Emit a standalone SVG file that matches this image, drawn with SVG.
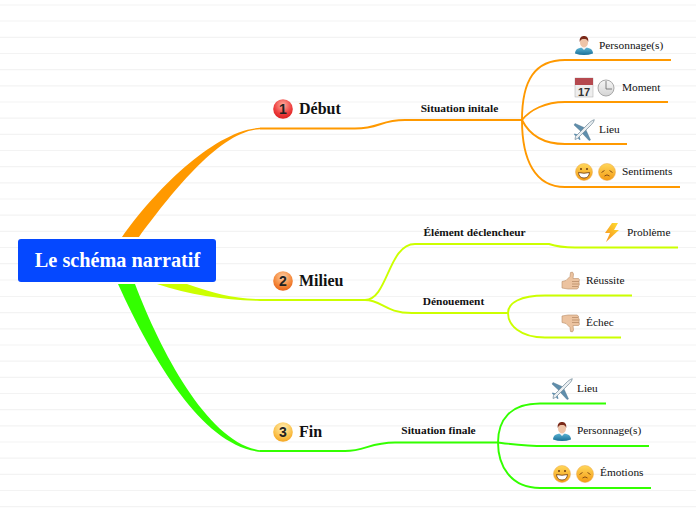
<svg xmlns="http://www.w3.org/2000/svg" width="696" height="520" viewBox="0 0 696 520">
<style>
text{font-family:"Liberation Serif","Times New Roman",serif;fill:#111}
.root{font-size:20.25px;font-weight:bold;fill:#fff;text-anchor:middle}
.main{font-size:16px;font-weight:bold}
.sub{font-size:11.4px;font-weight:bold;text-anchor:middle}
.leaf{font-size:11.35px}
.rule{stroke:#f3f3f3;stroke-width:1.2}
.o{fill:none;stroke:#ff9900;stroke-width:1.9}
.y{fill:none;stroke:#ccff00;stroke-width:1.9}
.g{fill:none;stroke:#33ff00;stroke-width:1.9}
.num{font-family:"Liberation Sans",sans-serif;font-size:14px;font-weight:bold;text-anchor:middle;fill:#222}
.hand{fill:#ecc3a0;stroke:#b98d68;stroke-width:.6}
.fing{fill:none;stroke:#b98d68;stroke-width:.8}
</style>
<defs>
<radialGradient id="r1" cx=".5" cy=".3" r=".75"><stop offset="0" stop-color="#ffb0a0"/><stop offset=".6" stop-color="#ee4040"/><stop offset="1" stop-color="#d81818"/></radialGradient>
<radialGradient id="r2" cx=".5" cy=".3" r=".75"><stop offset="0" stop-color="#ffd0a8"/><stop offset=".6" stop-color="#f58a3c"/><stop offset="1" stop-color="#e45c14"/></radialGradient>
<radialGradient id="r3" cx=".5" cy=".3" r=".75"><stop offset="0" stop-color="#ffefb8"/><stop offset=".6" stop-color="#fbc450"/><stop offset="1" stop-color="#f4a018"/></radialGradient>
<linearGradient id="face" x1="0" y1="0" x2="0" y2="1"><stop offset="0" stop-color="#ffd75a"/><stop offset="1" stop-color="#f39a14"/></linearGradient>
<linearGradient id="shirt" x1="0" y1="0" x2="0" y2="1"><stop offset="0" stop-color="#5cb4d4"/><stop offset="1" stop-color="#1a6f98"/></linearGradient>
<linearGradient id="bolt" x1="1" y1="0" x2="0" y2="1"><stop offset="0" stop-color="#ffe030"/><stop offset="1" stop-color="#f58a20"/></linearGradient>
<linearGradient id="clock" x1="0" y1="0" x2="0" y2="1"><stop offset="0" stop-color="#f6f6f6"/><stop offset="1" stop-color="#d4d4d4"/></linearGradient>
<symbol id="person" viewBox="0 0 20 20" overflow="visible">
<path d="M1 18.500C1 14 5 12.500 10 12.500S19 14 19 18.500Q10 21.500 1 18.500Z" fill="url(#shirt)"/>
<path d="M7 12L10 15L13 12Z" fill="#f4f4f4"/>
<ellipse cx="10" cy="7.500" rx="4" ry="5" fill="#eec4a8"/>
<path d="M5.800 7C5 2 8 1 10 1S15 2 14.200 7C13.500 4.500 12 4 10 4S6.500 4.500 5.800 7Z" fill="#7a2a1a"/>
</symbol>
<symbol id="happy" viewBox="0 0 18 18" overflow="visible">
<circle cx="9" cy="9" r="8.500" fill="url(#face)" stroke="#eaa850" stroke-width=".5"/>
<circle cx="6" cy="6" r="1" fill="#6b3a10"/><circle cx="12" cy="6" r="1" fill="#6b3a10"/>
<path d="M3.500 9.500Q9 11 14.500 9.500Q14 15 9 15T3.500 9.500Z" fill="#fff" stroke="#6b3a10" stroke-width=".8"/>
</symbol>
<symbol id="sad" viewBox="0 0 18 18" overflow="visible">
<circle cx="9" cy="9" r="8.500" fill="url(#face)" stroke="#eaa850" stroke-width=".5"/>
<path d="M3.500 9.500L6.500 7.500M14.500 9.500L11.500 7.500" stroke="#7a4210" stroke-width=".9" fill="none"/>
<path d="M6.500 13Q9 10.800 11.500 13" stroke="#7a4210" stroke-width=".9" fill="none"/>
</symbol>
<symbol id="plane" viewBox="0 0 20 20" overflow="visible">
<path d="M10 7.500L1 3.500L0 5L7 11.500ZM12 10L16.500 20L15 20.500L8.500 13.500Z" fill="#5f8eac" stroke="#4a6f88" stroke-width=".4"/>
<path d="M1 19.500L1.500 16.500L15.500 2.500Q18.500 0 20.300 -.3Q20 2 17.500 4.500L3.500 18.500Z" fill="#e9eef1" stroke="#6f8696" stroke-width=".7"/>
<path d="M1.500 16L0 14.500L.5 13.500L3.500 14.500ZM4 18.500L5.500 20L6.500 19.500L5.500 16.500Z" fill="#5f8eac"/>
</symbol>
</defs>
<g id="background">
<path class="rule" d="M0 5H696M0 21H696M0 37.400H696M0 53.500H696M0 69.700H696M0 85.800H696M0 102H696M0 118.200H696M0 134.400H696M0 150.500H696M0 166.700H696M0 182.900H696M0 199H696M0 215.200H696M0 231.400H696M0 247.500H696M0 263.700H696M0 280H696M0 296.500H696M0 312.700H696M0 328.900H696M0 345H696M0 361.200H696M0 377.400H696M0 393.500H696M0 409.700H696M0 425.900H696M0 442H696M0 458.200H696M0 474.400H696M0 490.500H696M0 506.700H696"/>
</g>
<g id="connectors">
<path fill="#ff9900" d="M122 237C155 190 215 130 260 127.800L260 129.200C220 130.500 170 195 139 237Z"/>
<path fill="#ccff00" d="M157 284L187 284C212 293 235 299 260 299L260 301C225 300 190 295 157 284Z"/>
<path fill="#33ff00" d="M118 284L135 284C162 355 210 445 262 450.500L262 452C205 448 155 365 118 284Z"/>
<path class="o" d="M260 128.500H355C380 128.500 380 120 405 120H522"/>
<path class="o" d="M522 120C522 80 535 60 565 60H671"/>
<path class="o" d="M522 120C530 110 545 102 565 102H668"/>
<path class="o" d="M522 120C528 132 540 144 565 144H627"/>
<path class="o" d="M522 120C522 160 535 187 565 187H680"/>
<path class="y" d="M260 300H365C388 300 388 244 415 244H549C555 246 560 247.500 575 247.500H678"/>
<path class="y" d="M365 300C382 300 385 313 412 313H508"/>
<path class="y" d="M508 313C508 303 520 295.500 545 295.500H632"/>
<path class="y" d="M508 313C508 325 520 337.500 545 337.500H621"/>
<path class="g" d="M260 451H345C365 451 370 442.500 395 442.500H498"/>
<path class="g" d="M498 442.500C498 420 510 403.500 540 403.500H606"/>
<path class="g" d="M498 442.500C510 444 525 446 545 446H649"/>
<path class="g" d="M498 442.500C498 465 510 488 540 488H651"/>
</g>
<g id="root"><rect x="18" y="239" width="198" height="43" rx="3" fill="#0548ff"/><text class="root" x="117.500" y="267">Le schéma narratif</text></g>
<g id="debut"><circle cx="283" cy="109" r="9.800" fill="url(#r1)"/><text class="num" x="283" y="114">1</text><text class="main" x="299" y="114">Début</text></g>
<g id="milieu"><circle cx="283" cy="281" r="9.800" fill="url(#r2)"/><text class="num" x="283" y="286">2</text><text class="main" x="299" y="286">Milieu</text></g>
<g id="fin"><circle cx="283" cy="432" r="9.800" fill="url(#r3)"/><text class="num" x="283" y="437">3</text><text class="main" x="299" y="437">Fin</text></g>
<g id="situation-initale"><text class="sub" x="459.500" y="112">Situation initale</text></g>
<g id="element"><text class="sub" x="474.500" y="236">Élément déclencheur</text></g>
<g id="denouement"><text class="sub" x="453.500" y="305">Dénouement</text></g>
<g id="situation-finale"><text class="sub" x="438.500" y="434">Situation finale</text></g>
<g id="personnage1"><use href="#person" x="574" y="35" width="20" height="20"/><text class="leaf" x="599" y="49">Personnage(s)</text></g>
<g id="moment">
<rect x="575" y="78" width="18" height="19" fill="#eee" stroke="#aaa" stroke-width=".5"/><rect x="575" y="78" width="18" height="7" fill="#b5494f"/>
<text x="584" y="95.500" font-size="11" font-weight="bold" text-anchor="middle" style="font-family:'Liberation Sans',sans-serif;fill:#333">17</text>
<circle cx="606" cy="88" r="8" fill="url(#clock)" stroke="#a8a8a8"/><path d="M606 81V89H612" fill="none" stroke="#666" stroke-width=".8"/>
<text class="leaf" x="622" y="91">Moment</text></g>
<g id="lieu1"><use href="#plane" x="574" y="120" width="20" height="20"/><text class="leaf" x="599" y="133">Lieu</text></g>
<g id="sentiments"><use href="#happy" x="575" y="163" width="18" height="18"/><use href="#sad" x="598" y="163" width="18" height="18"/><text class="leaf" x="622" y="175">Sentiments</text></g>
<g id="probleme"><path fill="url(#bolt)" d="M612 223L618 223L614 230L619 230L606 242L610 233L605 233Z"/><text class="leaf" x="627" y="236">Problème</text></g>
<g id="reussite">
<path class="hand" d="M562 281.500L566 280.500L570 276.500L570.500 272.500Q573 271 573.500 274L573 278.500H578.500Q580 279 579 282Q580 285 578.500 286Q579 288.500 577 289H568L562 288Z"/><path class="fing" d="M572 281.500H579M572 284H579M572 286.500H578"/><text class="leaf" x="586" y="284">Réussite</text></g>
<g id="echec">
<path class="hand" d="M562 322.500L566 323.500L570 327.500L570.500 331.500Q573 333 573.500 330L573 325.500H578.500Q580 325 579 322Q580 319 578.500 318Q579 315.500 577 315H568L562 316Z"/><path class="fing" d="M572 322.500H579M572 320H579M572 317.500H578"/><text class="leaf" x="586" y="326">Échec</text></g>
<g id="lieu2"><use href="#plane" x="552" y="379" width="20" height="20"/><text class="leaf" x="577" y="392">Lieu</text></g>
<g id="personnage2"><use href="#person" x="552" y="421" width="20" height="20"/><text class="leaf" x="577" y="434">Personnage(s)</text></g>
<g id="emotions"><use href="#happy" x="553" y="465" width="18" height="18"/><use href="#sad" x="576" y="465" width="18" height="18"/><text class="leaf" x="600" y="476">Émotions</text></g>
</svg>
